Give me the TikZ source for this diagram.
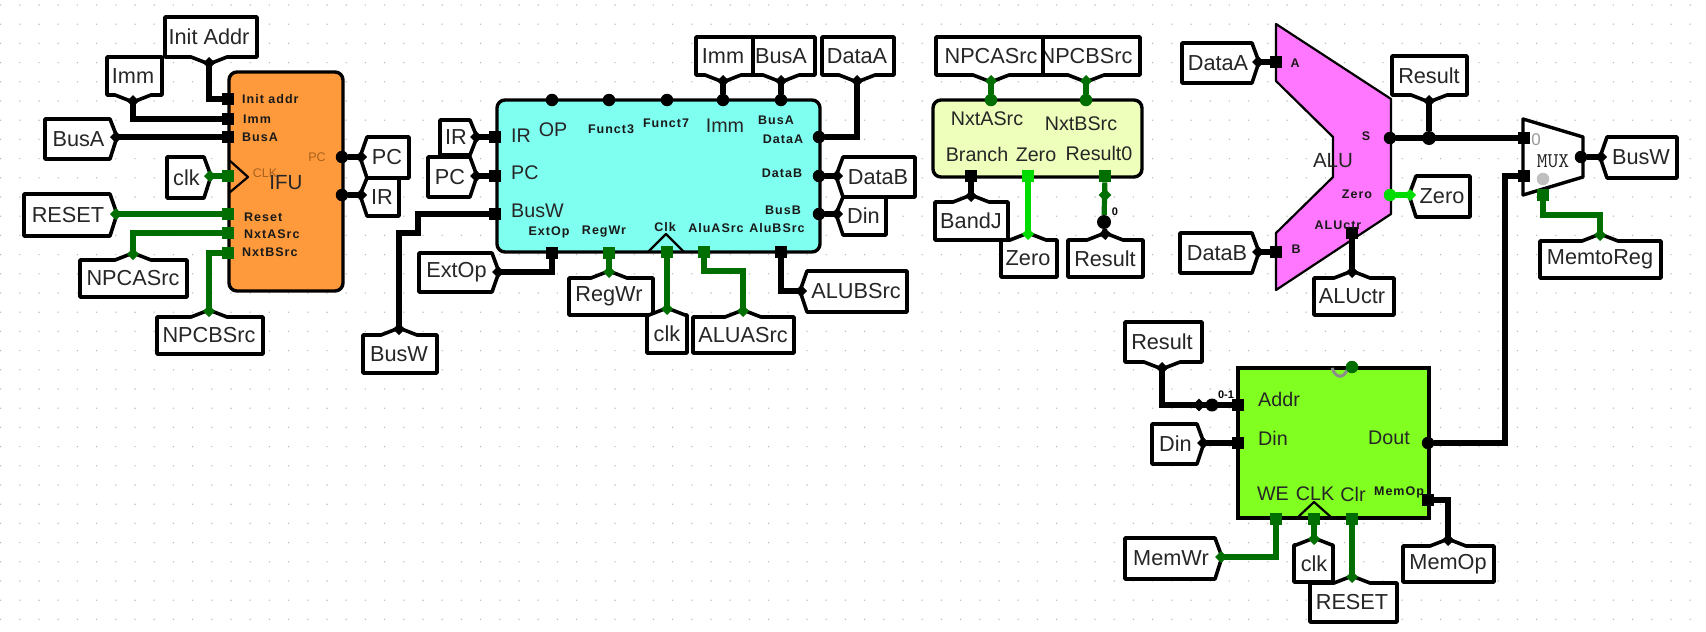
\documentclass[tikz,border=0pt]{standalone}
\usepackage{fontspec}
\setmainfont{Liberation Sans}
\newfontfamily\spacedbold[LetterSpace=8]{Liberation Sans Bold}
\usepackage{tikz}
\usetikzlibrary{arrows.meta, shapes.geometric}

\newcommand{\tunfont}{\fontsize{21.7}{24}\selectfont}
\newcommand{\bigfont}{\fontsize{19.7}{22}\selectfont}
\newcommand{\smallfont}{\fontsize{12.5}{14}\selectfont\spacedbold}

\definecolor{ifuorange}{HTML}{FF9A3C}
\definecolor{idcyan}{HTML}{7FFFEF}
\definecolor{nxtyellow}{HTML}{EEFFBB}
\definecolor{memgreen}{HTML}{80FF20}
\definecolor{alupink}{HTML}{FF77FF}
\definecolor{ctrl}{HTML}{006E00}
\definecolor{zeroline}{HTML}{00DC00}
\definecolor{pclabel}{HTML}{A8601C}

\begin{document}
\begin{tikzpicture}[
  x=1pt, y=-1pt,
  griddot/.style={fill=black!25},
  comp/.style={rectangle, draw, line width=3.4pt, fill=#1, rounded corners=8pt, inner sep=0pt},
  tunnel/.style={draw, fill=white, line width=3.6pt, line join=round},
  tunlbl/.style={font=\tunfont, inner sep=0pt, text=black!85},
  biglbl/.style={font=\bigfont, inner sep=0pt, text=black!85},
  sml/.style={font=\smallfont, inner sep=0pt, text=black!90},
  psq/.style={rectangle, fill=#1, minimum size=12.5pt, inner sep=0pt},
  psq/.default={black},
  pdot/.style={circle, fill=#1, minimum size=12.5pt, inner sep=0pt},
  pdot/.default={black},
  pdia/.style={diamond, fill=#1, minimum size=13pt, inner sep=0pt},
  pdia/.default={black},
  bus/.style={line width=5.2pt, #1},
  bus/.default={black},
  wire/.style={bus=#1, -{Diamond[length=12pt, width=12pt, sep=0pt]}, shorten >=-6pt},
  wire/.default={black},
  clkmark/.style={draw, line width=2.2pt, line join=round},
]
\useasboundingbox (0,0) rectangle (1706,632);
\fill[white] (0,0) rectangle (1706,632);

% --- Grid ---
\fill[griddot] \foreach \i in {0,...,88}{\foreach \j in {0,...,32}{
  ({0.6+19.2*\i},{5+19.2*\j}) circle (0.8)}};

% --- Components ---
\node[comp=ifuorange, minimum width=114pt, minimum height=219pt] (ifu) at (286,181.5) {};
\node[comp=idcyan, minimum width=323pt, minimum height=152pt] (idu) at (658.5,176) {};
\node[comp=nxtyellow, minimum width=209pt, minimum height=77pt] (nxt) at (1037.5,138.5) {};
\node[comp=memgreen, rounded corners=0pt, minimum width=191pt, minimum height=150pt] (mem) at (1333.5,443) {};

\draw[line width=2.2pt, fill=alupink, line join=round] (1276,24) -- (1391,99) -- (1391,214)
  -- (1276,290) -- (1276,233) -- (1333,177) -- (1333,137) -- (1276,81) -- cycle;
\draw[line width=3.4pt, fill=white, line join=round] (1523,119) -- (1583,137) -- (1583,177)
  -- (1523,195) -- cycle;

% Clock marks
\draw[clkmark] (229,160) -- (248,177) -- (229,193);
\draw[clkmark] (648,252) -- (666,234) -- (684,252);
\draw[clkmark] (1297,518) -- (1314,502) -- (1332,518);
\draw[black!45, line width=3pt] (1332,368) .. controls (1336,379) and (1344,379) .. (1348,368);

% --- Tunnels, tip below ---
\foreach \nm/\xa/\ya/\xb/\yb/\tc/\txt in {
  tInit/165/17/257/57/209/Init Addr, tImmA/107/57/162/95/133/Imm,
  tImmB/696/37/753/75/723/Imm, tBusAB/753/37/815/75/781/BusA,
  tDataAB/822/37/894/75/857/DataA, tNpcbB/1043/37/1140/75/1086/NPCBSrc,
  tNpcaB/936/37/1043/75/991/NPCASrc, tResA/1392/56/1467/95/1429/Result,
  tResM/1125/322/1202/362/1162/Result}{
  \draw[tunnel] (\xa,\ya) -- (\xb,\ya) -- (\xb,\yb) -- ({\tc+18},\yb) -- (\tc,{\yb+7})
    -- ({\tc-18},\yb) -- (\xa,\yb) -- cycle;
  \node[tunlbl] (\nm) at (\tc,{(\ya+\yb)/2}) {\txt};
  \coordinate (\nm-tip) at (\tc,{\yb+6});
}

% --- Tunnels, tip above ---
\foreach \nm/\xa/\ya/\xb/\yb/\tc/\txt in {
  tNpcaA/80/260/187/297/133/NPCASrc, tNpcbA/157/317/263/354/209/NPCBSrc,
  tBusWA/363/335/437/373/399/BusW, tRegWr/569/278/653/315/609/RegWr,
  tClkB/647/315/687/353/667/clk, tAluA/693/317/794/353/743/ALUASrc,
  tBandJ/935/202/1008/240/971/BandJ, tZeroA/1001/240/1057/277/1028/Zero,
  tResB/1068/240/1143/277/1105/Result, tAluCtr/1314/278/1394/315/1352/ALUctr,
  tMemReg/1540/241/1661/278/1600/MemtoReg, tClkC/1294/545/1333/582/1314/clk,
  tResetB/1310/583/1397/622/1352/RESET, tMemOp/1403/546/1494/582/1448/MemOp}{
  \draw[tunnel] (\xa,\yb) -- (\xb,\yb) -- (\xb,\ya) -- ({\tc+18},\ya) -- (\tc,{\ya-7})
    -- ({\tc-18},\ya) -- (\xa,\ya) -- cycle;
  \node[tunlbl] (\nm) at (\tc,{(\ya+\yb)/2}) {\txt};
  \coordinate (\nm-tip) at (\tc,{\ya-6});
}

% --- Tunnels, tip right ---
\foreach \nm/\xa/\ya/\xb/\yb/\tc/\txt in {
  tBusA/45/119/110/159/137/BusA, tClkA/167/157/204/198/176/clk,
  tResetA/24/194/110/236/214/RESET, tIRB/440/120/470/155/137/IR,
  tPCB/428/157/470/197/176/PC, tExtOp/419/253/492/292/272/ExtOp,
  tDataAC/1182/43/1252/83/62/DataA, tDataBC/1180/233/1252/273/252/DataB,
  tDinB/1152/424/1197/464/443/Din, tMemWr/1125/538/1215/579/557/MemWr}{
  \draw[tunnel] (\xb,\ya) -- ({\xb+7},\tc) -- (\xb,\yb) -- (\xa,\yb) -- (\xa,\ya) -- cycle;
  \node[tunlbl] (\nm) at ({(\xa+\xb)/2+1},{(\ya+\yb)/2}) {\txt};
  \coordinate (\nm-tip) at ({\xb+6},\tc);
}

% --- Tunnels, tip left ---
\foreach \nm/\xa/\ya/\xb/\yb/\tc/\txt in {
  tPCA/367/137/409/178/157/PC, tIRA/367/178/399/216/195/IR,
  tDataBB/843/157/915/197/176/DataB, tDinA/843/197/886/235/214/Din,
  tAluB/807/271/907/312/291/ALUBSrc, tZeroB/1416/176/1470/217/195/Zero,
  tBusWB/1607/137/1677/178/157/BusW}{
  \draw[tunnel] (\xa,\ya) -- ({\xa-7},\tc) -- (\xa,\yb) -- (\xb,\yb) -- (\xb,\ya) -- cycle;
  \node[tunlbl] (\nm) at ({(\xa+\xb)/2-1},{(\ya+\yb)/2}) {\txt};
  \coordinate (\nm-tip) at ({\xa-6},\tc);
}

% --- IFU ports and labels ---
\node[psq] (pInit) at (228,99) {};
\node[psq] (pImmA) at (228,119) {};
\node[psq] (pBusA) at (228,137) {};
\node[psq=ctrl] (pClkA) at (228,176) {};
\node[psq=ctrl] (pReset) at (228,214) {};
\node[psq=ctrl] (pNxtA) at (228,233) {};
\node[psq=ctrl] (pNxtB) at (228,253) {};
\node[pdot] (pPC) at (342,157) {};
\node[pdot] (pIR) at (342,195) {};

\node[sml, anchor=west] (lInit) at (242,99) {Init addr};
\node[sml, anchor=west] (lImmA) at (243,119) {Imm};
\node[sml, anchor=west] (lBusA) at (242,137) {BusA};
\node[sml, anchor=west] (lReset) at (244,217) {Reset};
\node[sml, anchor=west] (lNxtA) at (244,234) {NxtASrc};
\node[sml, anchor=west] (lNxtB) at (242,252) {NxtBSrc};
\node[font=\fontsize{12.5}{14}\selectfont, text=pclabel, inner sep=0pt] (lClkA) at (265,173) {CLK};
\node[font=\fontsize{12.5}{14}\selectfont, text=pclabel, inner sep=0pt] (lPC) at (317,157) {PC};
\node[biglbl, font=\fontsize{20.5}{22}\selectfont] (lIFU) at (286,183) {IFU};

% --- Decoder ports and labels ---
\node[pdot] (pOP) at (552,100) {};
\node[pdot] (pF3) at (609,100) {};
\node[pdot] (pF7) at (667,100) {};
\node[pdot] (pImmB) at (723,100) {};
\node[pdot] (pBusAB) at (781,100) {};
\node[psq] (pIRB) at (495,137) {};
\node[psq] (pPCB) at (495,176) {};
\node[psq] (pBusW) at (495,214) {};
\node[pdot] (pDataA) at (819,137) {};
\node[pdot] (pDataB) at (819,176) {};
\node[pdot] (pBusB) at (819,214) {};
\node[psq] (pExtOp) at (552,253) {};
\node[psq=ctrl] (pRegWr) at (609,253) {};
\node[psq=ctrl] (pClkB) at (667,252) {};
\node[psq=ctrl] (pAluA) at (704,252) {};
\node[psq] (pAluB) at (781,252) {};

\node[biglbl, anchor=west] (lIRB) at (511,136) {IR};
\node[biglbl, anchor=west] (lPCB) at (511,173) {PC};
\node[biglbl, anchor=west] (lBusW) at (511,211) {BusW};
\node[biglbl] (lOP) at (553,130) {OP};
\node[biglbl] (lImmB) at (725,126) {Imm};
\node[sml] (lF3) at (611,129) {Funct3};
\node[sml] (lF7) at (666,123) {Funct7};
\node[sml] (lBusAB) at (776,120) {BusA};
\node[sml] (lDataA) at (783,139) {DataA};
\node[sml] (lDataB) at (782,173) {DataB};
\node[sml] (lBusB) at (783,210) {BusB};
\node[sml] (lExtOp) at (549,232) {ExtOp};
\node[sml] (lRegWr) at (604,232) {RegWr};
\node[sml] (lClkB) at (665,227) {Clk};
\node[sml] (lAluA) at (716,228) {AluASrc};
\node[sml] (lAluB) at (777,228) {AluBSrc};

% --- Next PC ports and labels ---
\node[pdot=ctrl] (pNxtAB) at (991,100) {};
\node[pdot=ctrl] (pNxtBB) at (1086,100) {};
\node[psq] (pBranch) at (971,176) {};
\node[psq=zeroline] (pZeroA) at (1028,176) {};
\node[psq=ctrl] (pRes0) at (1105,176) {};
\node[biglbl] (lNxtAB) at (987,119) {NxtASrc};
\node[biglbl] (lNxtBB) at (1081,124) {NxtBSrc};
\node[biglbl] (lBranch) at (977,154) {Branch};
\node[biglbl] (lZeroA) at (1036,155) {Zero};
\node[biglbl] (lRes0) at (1099,153) {Result0};

% --- ALU ports and labels ---
\node[psq] (pAluIA) at (1276,62) {};
\node[psq] (pAluIB) at (1276,252) {};
\node[pdot] (pAluS) at (1390,138) {};
\node[pdot=zeroline] (pZeroB) at (1390,195) {};
\node[psq] (pAluCtr) at (1352,233) {};
\node[sml] (lAluIA) at (1295,63) {A};
\node[sml] (lAluIB) at (1296,249) {B};
\node[sml] (lAluS) at (1366,136) {S};
\node[sml] (lZeroB) at (1357,194) {Zero};
\node[sml] (lAluCtr) at (1338,225) {ALUctr};
\node[biglbl, font=\fontsize{20.5}{22}\selectfont] (lALU) at (1333,161) {ALU};

% --- MUX ---
\node[psq] (pMuxA) at (1524,138) {};
\node[psq] (pMuxB) at (1524,176) {};
\node[pdot] (pMuxO) at (1581,157) {};
\node[psq=ctrl] (pMuxS) at (1543,195) {};
\node[pdot=black!25] (pMuxG) at (1543,179) {};
\node[font=\fontsize{17}{18}\selectfont, text=black!40, inner sep=0pt] (lMuxZ) at (1536,140) {0};
\node[font=\fontsize{21}{22}\selectfont\ttfamily, text=black!85, inner sep=0pt] (lMux) at (1553,161) {MUX};

% --- Memory ports and labels ---
\node[psq] (pAddr) at (1238,405) {};
\node[psq] (pDin) at (1238,443) {};
\node[pdot] (pDout) at (1428,443) {};
\node[psq] (pMemOp) at (1428,500) {};
\node[psq=ctrl] (pWE) at (1276,519) {};
\node[psq=ctrl] (pClkC) at (1314,519) {};
\node[psq=ctrl] (pClr) at (1352,519) {};
\node[pdot=ctrl] (pMemTop) at (1352,367) {};
\node[biglbl, anchor=west] (lAddr) at (1258,399) {Addr};
\node[biglbl, anchor=west] (lDin) at (1258,438) {Din};
\node[biglbl, anchor=east] (lDout) at (1410,438) {Dout};
\node[biglbl] (lWE) at (1273,494) {WE};
\node[biglbl] (lClkC) at (1315,494) {CLK};
\node[biglbl] (lClr) at (1353,494) {Clr};
\node[sml] (lMemOp) at (1399,492) {MemOp};

% --- IFU wires ---
\draw[wire] (pInit) -| (tInit-tip);
\draw[wire] (pImmA) -| (tImmA-tip);
\draw[wire] (pBusA) -- (tBusA-tip);
\draw[wire=ctrl] (pClkA) -- (tClkA-tip);
\draw[wire=ctrl] (pReset) -- (tResetA-tip);
\draw[wire=ctrl] (pNxtA) -| (tNpcaA-tip);
\draw[wire=ctrl] (pNxtB) -| (tNpcbA-tip);
\draw[wire] (pPC) -- (tPCA-tip);
\draw[wire] (pIR) -- (tIRA-tip);

% --- Decoder wires ---
\draw[wire] (pIRB) -- (tIRB-tip);
\draw[wire] (pPCB) -- (tPCB-tip);
\draw[wire] (pBusW) -- ++(-77,0) -- ++(0,19) -| (tBusWA-tip);
\draw[wire] (pExtOp) |- (tExtOp-tip);
\draw[wire=ctrl] (pRegWr) -- (tRegWr-tip);
\draw[wire=ctrl] (pClkB) -- (tClkB-tip);
\draw[wire=ctrl] (pAluA) -- ++(0,19) -| (tAluA-tip);
\draw[wire] (pAluB) |- (tAluB-tip);
\draw[wire] (pImmB) -- (tImmB-tip);
\draw[wire] (pBusAB) -- (tBusAB-tip);
\draw[wire] (pDataA) -| (tDataAB-tip);
\draw[wire] (pDataB) -- (tDataBB-tip);
\draw[wire] (pBusB) -- (tDinA-tip);

% --- Next PC wires ---
\draw[wire=ctrl] (pNxtAB) -- (tNpcaB-tip);
\draw[wire=ctrl] (pNxtBB) -- (tNpcbB-tip);
\draw[wire] (pBranch) -- (tBandJ-tip);
\draw[wire=zeroline] (pZeroA) -- (tZeroA-tip);
\node[circle, fill, minimum size=14pt, inner sep=0pt] (jRes) at (1104,222) {};
\draw[bus=ctrl] (pRes0) -- (jRes);
\draw[wire] (jRes) -- (tResB-tip);
\node[pdia=ctrl] (dRes) at (1105,195) {};
\node[font=\fontsize{11}{12}\selectfont\bfseries, inner sep=0pt] (lRes) at (1115,212) {0};

% --- ALU and MUX wires ---
\draw[wire] (pAluIA) -- (tDataAC-tip);
\draw[wire] (pAluIB) -- (tDataBC-tip);
\draw[wire] (pAluCtr) -- (tAluCtr-tip);
\draw[wire=zeroline] (pZeroB) -- (tZeroB-tip);
\draw[bus] (pAluS) -- (pMuxA);
\node[circle, fill, minimum size=14pt, inner sep=0pt] (jAlu) at (1429,138) {};
\draw[wire] (jAlu) -- (tResA-tip);
\draw[wire] (pMuxO) -- (tBusWB-tip);
\draw[wire=ctrl] (pMuxS) -- ++(0,20) -| (tMemReg-tip);

% --- Memory wires ---
\draw[wire] (pAddr) -| (tResM-tip);
\node[pdia] (dAddr) at (1199,405) {};
\node[circle, fill, minimum size=13pt, inner sep=0pt] (jAddr) at (1212,405) {};
\node[font=\fontsize{11}{12}\selectfont\bfseries, inner sep=0pt] (lAddrW) at (1226,395) {0-1};
\draw[wire] (pDin) -- (tDinB-tip);
\draw[bus] (pDout) -- ++(77,0) |- (pMuxB);
\draw[wire] (pMemOp) -| (tMemOp-tip);
\draw[wire=ctrl] (pWE) |- (tMemWr-tip);
\draw[wire=ctrl] (pClkC) -- (tClkC-tip);
\draw[wire=ctrl] (pClr) -- (tResetB-tip);

\end{tikzpicture}
\end{document}
